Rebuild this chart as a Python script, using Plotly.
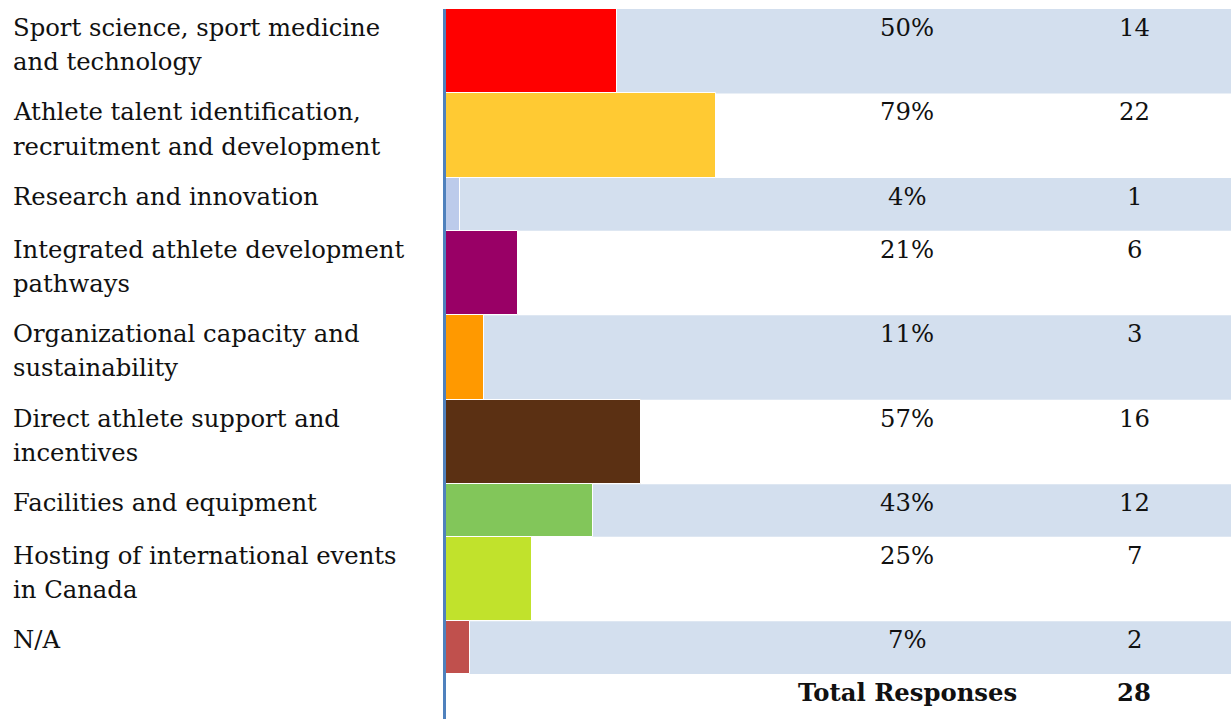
import plotly.graph_objects as go

# Survey: priority areas selected by respondents
categories = [
    "Sport science, sport medicine<br>and technology",
    "Athlete talent identification,<br>recruitment and development",
    "Research and innovation",
    "Integrated athlete development<br>pathways",
    "Organizational capacity and<br>sustainability",
    "Direct athlete support and<br>incentives",
    "Facilities and equipment",
    "Hosting of international events<br>in Canada",
    "N/A",
]
percent = [50, 79, 4, 21, 11, 57, 43, 25, 7]
counts = [14, 22, 1, 6, 3, 16, 12, 7, 2]
total_label = "Total Responses"
total_responses = 28
bar_colors = ["#ff0000", "#ffca33", "#bccbeb", "#990066", "#ff9900",
              "#5b3013", "#82c65a", "#c1e22c", "#c0504d"]

W, H = 1231, 719
TOP = 9
LEFT = 446            # where bars start (pixels)
PX_PER_PCT = 3.42     # horizontal scale
ROW2, ROW1, TOT_ROW = 84.5, 52.7, 45.0
LINE_GAP = 34.3       # spacing between wrapped label lines
FIRST_LINE = 18.5     # offset of the first text line below a row's top

# row geometry in pixel units (y axis runs top -> bottom)
heights = [ROW2 if "<br>" in c else ROW1 for c in categories]
tops = []
acc = 0.0
for h in heights:
    tops.append(acc)
    acc += h
table_end = acc
y_total = table_end + TOT_ROW
centers = [t + h / 2 for t, h in zip(tops, heights)]

x_min = -3 / PX_PER_PCT
x_max = (W - LEFT) / PX_PER_PCT

FONT = "DejaVu Serif"
FS = 24.3
TXT = "#111111"
PCT_X = 907
CNT_X = 1134

fig = go.Figure()
fig.add_trace(go.Bar(
    orientation="h",
    y=centers,
    x=percent,
    base=0,
    width=heights,
    marker=dict(color=bar_colors, line=dict(color="white", width=1)),
    hoverinfo="skip",
    showlegend=False,
))

shapes = []
# banded rows
for i, (t, h) in enumerate(zip(tops, heights)):
    if i % 2 == 0:
        shapes.append(dict(type="rect", xref="x", yref="y", x0=0, x1=x_max,
                           y0=t, y1=t + h, fillcolor="#d3dfee",
                           line=dict(width=0), layer="below"))
# left axis rule
shapes.append(dict(type="rect", xref="x", yref="paper", x0=x_min, x1=0,
                   y0=0, y1=1, fillcolor="#4f81bd", line=dict(width=0),
                   layer="above"))


def text_at(x_px, y, text, anchor="center"):
    return dict(xref="paper", yref="y", x=x_px / W, y=y, xanchor=anchor,
                yanchor="middle", text=text, showarrow=False,
                font=dict(family=FONT, size=FS, color=TXT))


annotations = []
for i, (c, t) in enumerate(zip(categories, tops)):
    for k, line in enumerate(c.split("<br>")):
        annotations.append(text_at(11, t + FIRST_LINE + k * LINE_GAP, line,
                                   anchor="left"))
    annotations.append(text_at(PCT_X, t + FIRST_LINE, f"{percent[i]}%"))
    annotations.append(text_at(CNT_X, t + FIRST_LINE, str(counts[i])))

annotations.append(text_at(PCT_X, table_end + 18, f"<b>{total_label}</b>"))
annotations.append(text_at(CNT_X, table_end + 18, f"<b>{total_responses}</b>"))

fig.update_layout(
    width=W, height=H,
    margin=dict(l=0, r=0, t=TOP, b=0),
    paper_bgcolor="white", plot_bgcolor="white",
    bargap=0,
    xaxis=dict(domain=[(LEFT - 3) / W, 1], range=[x_min, x_max],
               visible=False, fixedrange=True),
    yaxis=dict(domain=[0, 1], range=[y_total, 0], visible=False,
               fixedrange=True),
    shapes=shapes,
    annotations=annotations,
)

fig.write_html("out.html")
